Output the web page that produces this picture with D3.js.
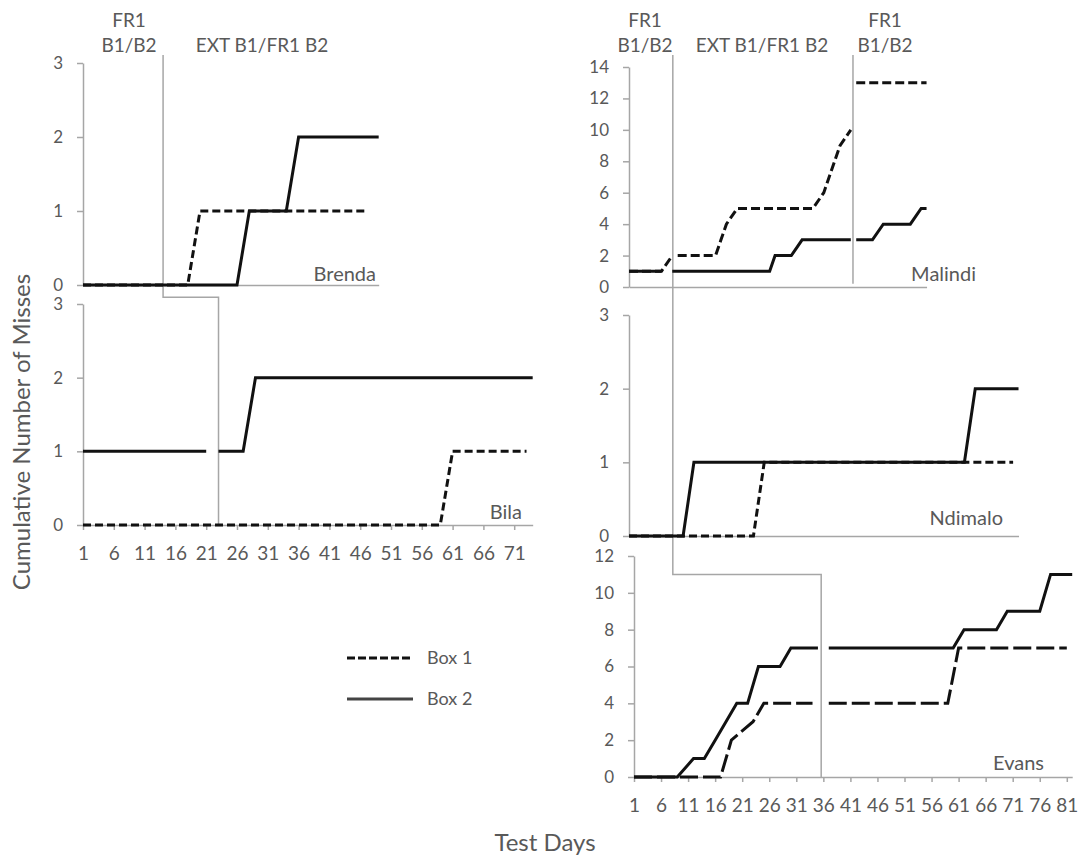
<!DOCTYPE html>
<head>
	<meta charset="utf-8">
	<script src="https://d3js.org/d3.v7.min.js"></script>
	<style>
		body { margin: 0; background: #fff; }
		text { font-family: Lato, "Open Sans", sans-serif; fill: #595959; }
	</style>
</head>
<body>
	<div id="chart"></div>
	<script>

	var width = 1083,
	height = 860;

	// cumulative misses as [test day, misses]; a new run starts after each phase change
	var brendaBox1 = [[[1,0],[18,0],[20,1],[47,1]]];
	var brendaBox2 = [[[1,0],[26,0],[28,1],[34,1],[36,2],[49,2]]];

	var bilaBox1 = [[[1,0],[59,0],[61,1],[73,1]]];
	var bilaBox2 = [[[1,1],[21,1]], [[23,1],[27,1],[29,2],[74,2]]];

	var malindiBox1 = [[[1,1],[7,1],[9,2]],
		[[10,2],[17,2],[18,3],[19,4],[21,5],[35,5],[37,6],[38,7],[39,8],[40,9],[42,10]],
		[[43,13],[56,13]]];
	var malindiBox2 = [[[1,1],[7,1]],
		[[9,1],[27,1],[28,2],[31,2],[33,3],[42,3]],
		[[43,3],[46,3],[48,4],[53,4],[55,5],[56,5]]];

	var ndimaloBox1 = [[[1,0],[24,0],[26,1],[72,1]]];
	var ndimaloBox2 = [[[1,0],[11,0],[13,1],[63,1],[65,2],[73,2]]];

	var evansBox1 = [[[1,0],[17,0],[19,2],[23,3],[25,4],[34,4]],
		[[37,4],[59,4],[61,7],[81,7]]];
	var evansBox2 = [[[1,0],[9,0],[12,1],[14,1],[16,2],[18,3],[20,4],[22,4],[24,6],[28,6],[30,7],[35,7]],
		[[37,7],[60,7],[62,8],[68,8],[70,9],[76,9],[78,11],[82,11]]];

	// tick values
	var leftDayTicks = d3.range(1, 72, 5);   // 1 ... 71
	var rightDayTicks = d3.range(1, 82, 5);  // 1 ... 81
	var smallTicks = [0, 1, 2, 3];
	var malindiTicks = d3.range(0, 15, 2);
	var evansTicks = d3.range(0, 13, 2);

	// phase change days
	var brendaPhase = 14, bilaPhase = 23;
	var malindiPhases = [9.1, 42.4], evansPhase = 35.6, evansPhaseLevel = 11;

	var svg = d3.select("#chart").append("svg")
		.attr("width", width)
		.attr("height", height);

	var panels = [
		{name: "Brenda", box1: brendaBox1, box2: brendaBox2, maxDay: 49, left: 83, pxDay: 6.16,
			bottom: 285, top: 63, yMax: 3, yTicks: smallTicks, dayTicks: null, nameX: 376, nameY: 281, dash: "8,4"},
		{name: "Bila", box1: bilaBox1, box2: bilaBox2, maxDay: 74, left: 83, pxDay: 6.16,
			bottom: 525, top: 304, yMax: 3, yTicks: smallTicks, dayTicks: leftDayTicks, nameX: 522, nameY: 519, dash: "8,4"},
		{name: "Malindi", box1: malindiBox1, box2: malindiBox2, maxDay: 56, left: 629, pxDay: 5.41,
			bottom: 287, top: 67, yMax: 14, yTicks: malindiTicks, dayTicks: null, nameX: 976, nameY: 281, dash: "9,4"},
		{name: "Ndimalo", box1: ndimaloBox1, box2: ndimaloBox2, maxDay: 73, left: 629, pxDay: 5.41,
			bottom: 536, top: 315, yMax: 3, yTicks: smallTicks, dayTicks: null, nameX: 1003, nameY: 525, dash: "8,4"},
		{name: "Evans", box1: evansBox1, box2: evansBox2, maxDay: 82, left: 634, pxDay: 5.41,
			bottom: 777, top: 556, yMax: 12, yTicks: evansTicks, dayTicks: rightDayTicks, nameX: 1044, nameY: 770, dash: "18,5"}
	];

	var byName = {};
	panels.forEach(function(p) {
		p.x = d3.scaleLinear().domain([1, p.maxDay]).range([p.left, p.left + (p.maxDay - 1) * p.pxDay]);
		p.y = d3.scaleLinear().domain([0, p.yMax]).range([p.bottom, p.top]);
		byName[p.name] = p;
	});

	// axes
	panels.forEach(function(p) {
		var yAxis = d3.axisLeft(p.y)
			.tickValues(p.yTicks)
			.tickFormat(d3.format("d"))
			.tickSize(6)
			.tickSizeOuter(0)
			.tickPadding(14);
		var gy = svg.append("g")
			.attr("transform", "translate(" + p.left + ",0)")
			.call(yAxis);

		var xAxis = d3.axisBottom(p.x)
			.tickValues(p.dayTicks || [])
			.tickFormat(d3.format("d"))
			.tickSize(5)
			.tickSizeOuter(0)
			.tickPadding(17);
		var gx = svg.append("g")
			.attr("transform", "translate(0," + p.bottom + ")")
			.call(xAxis);

		[gx, gy].forEach(function(g) {
			g.selectAll("path, line").attr("stroke", "#a6a6a6").attr("stroke-width", 1.5);
			g.selectAll("text").attr("fill", "#595959")
				.style("font-family", "Lato, 'Open Sans', sans-serif");
		});
		gx.selectAll("text").style("font-size", "19px");
		gy.selectAll("text").style("font-size", "17px");
	});

	// phase change lines
	var phaseTop = 55;
	var brenda = byName["Brenda"], bila = byName["Bila"];
	var malindi = byName["Malindi"], evans = byName["Evans"];
	var phaseLines = [
		[[brenda.x(brendaPhase), phaseTop], [brenda.x(brendaPhase), bila.y(3.09)],
			[bila.x(bilaPhase), bila.y(3.09)], [bila.x(bilaPhase), bila.y(0)]],
		[[malindi.x(malindiPhases[0]), phaseTop], [malindi.x(malindiPhases[0]), evans.y(evansPhaseLevel)],
			[evans.x(evansPhase), evans.y(evansPhaseLevel)], [evans.x(evansPhase), evans.y(0)]],
		[[malindi.x(malindiPhases[1]), phaseTop], [malindi.x(malindiPhases[1]), malindi.y(0.2)]]
	];
	svg.append("g")
		.selectAll("path")
		.data(phaseLines)
		.join("path")
			.attr("d", d3.line())
			.attr("fill", "none")
			.attr("stroke", "#a6a6a6")
			.attr("stroke-width", 1.5);

	// data lines
	panels.forEach(function(p) {
		var line = d3.line()
			.x(function(d) { return p.x(d[0]); })
			.y(function(d) { return p.y(d[1]); });

		svg.append("g")
			.selectAll("path")
			.data(p.box2)
			.join("path")
				.attr("d", line)
				.attr("fill", "none")
				.attr("stroke", "#111")
				.attr("stroke-width", 3);

		svg.append("g")
			.selectAll("path")
			.data(p.box1)
			.join("path")
				.attr("d", line)
				.attr("fill", "none")
				.attr("stroke", "#111")
				.attr("stroke-width", 3)
				.attr("stroke-dasharray", p.dash);

		svg.append("text")
			.attr("x", p.nameX)
			.attr("y", p.nameY)
			.attr("text-anchor", "end")
			.style("font-size", "20px")
			.text(p.name);
	});

	// phase labels
	var phaseLabels = [
		{x: 129, lines: ["FR1", "B1/B2"]},
		{x: 262, lines: ["", "EXT B1/FR1 B2"]},
		{x: 645, lines: ["FR1", "B1/B2"]},
		{x: 762, lines: ["", "EXT B1/FR1 B2"]},
		{x: 885, lines: ["FR1", "B1/B2"]}
	];
	phaseLabels.forEach(function(l) {
		l.lines.forEach(function(t, i) {
			svg.append("text")
				.attr("x", l.x)
				.attr("y", 27 + i * 25)
				.attr("text-anchor", "middle")
				.style("font-size", "19px")
				.text(t);
		});
	});

	// axis titles
	svg.append("text")
		.attr("transform", "translate(30,432) rotate(-90)")
		.attr("text-anchor", "middle")
		.style("font-size", "24px")
		.text("Cumulative Number of Misses");

	svg.append("text")
		.attr("x", 545)
		.attr("y", 851)
		.attr("text-anchor", "middle")
		.style("font-size", "24px")
		.text("Test Days");

	// legend
	var legend = [{label: "Box 1", dash: "8,3"}, {label: "Box 2", dash: null}];
	legend.forEach(function(d, i) {
		var ly = 658 + i * 41;
		svg.append("line")
			.attr("x1", 347).attr("x2", 413)
			.attr("y1", ly).attr("y2", ly)
			.attr("stroke", i ? "#444" : "#111")
			.attr("stroke-width", 3)
			.attr("stroke-dasharray", d.dash);
		svg.append("text")
			.attr("x", 427)
			.attr("y", ly + 6)
			.style("font-size", "18px")
			.text(d.label);
	});
</script>
</body>
<html>
